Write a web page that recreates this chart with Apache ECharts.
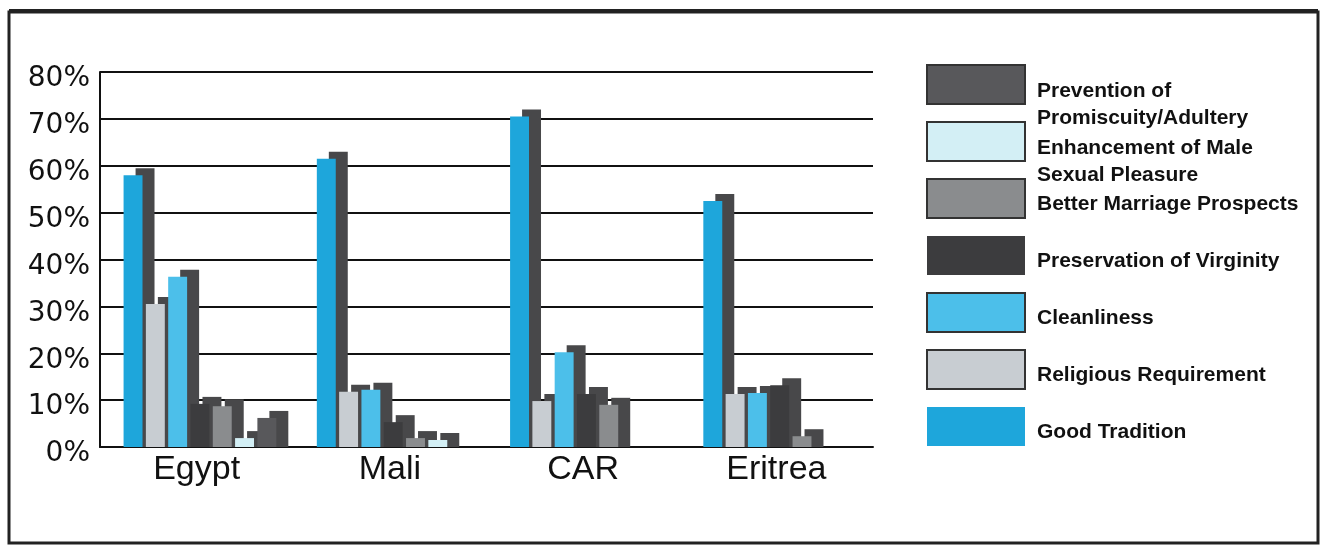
<!DOCTYPE html>
<html>
<head>
<meta charset="utf-8">
<script src="https://cdn.jsdelivr.net/npm/echarts@6/dist/echarts.min.js"></script>
<style>
  html, body { margin: 0; background: #fff; }
  #chart { width: 1323px; height: 546px; }
</style>
</head>
<body>
<div id="chart"></div>
<script>
const countries = ['Egypt', 'Mali', 'CAR', 'Eritrea'];

const reasons = [
  'Good Tradition',
  'Religious Requirement',
  'Cleanliness',
  'Preservation of Virginity',
  'Better Marriage Prospects',
  'Enhancement of Male Sexual Pleasure',
  'Prevention of Promiscuity/Adultery'
];

// percent of respondents
const goodTradition = [58, 61.5, 70.5, 52.5];
const religiousRequirement = [30.5, 11.8, 9.8, 11.3];
const cleanliness = [36.3, 12.2, 20.2, 11.5];
const preservationOfVirginity = [9.2, 5.3, 11.3, 13.2];
const betterMarriage = [8.7, 1.9, 9, 2.3];
const maleSexualPleasure = [1.9, 1.5, 0, 0];
const preventionOfPromiscuity = [6.2, 0, 0, 0];

const values = [
  goodTradition, religiousRequirement, cleanliness, preservationOfVirginity,
  betterMarriage, maleSexualPleasure, preventionOfPromiscuity
];

const legendLabels = [
  'Good Tradition',
  'Religious Requirement',
  'Cleanliness',
  'Preservation of Virginity',
  'Better Marriage Prospects',
  'Enhancement of Male\nSexual Pleasure',
  'Prevention of\nPromiscuity/Adultery'
];

const colors = ['#1ea6db', '#c8cdd2', '#4cbfea', '#3c3c3e', '#8a8c8e', '#d3eff5', '#58585b'];
const shadowColor = '#48484a';
const DX = 12, DY = 7;

function renderBar(idx) {
  return function (params, api) {
    const v = api.value(1);
    if (!v) return null;
    const top = api.coord([api.value(0), v]);
    const base = api.coord([api.value(0), 0]);
    const band = api.size([1, 0])[0];
    const w = band * 0.098;
    const x = top[0] - band * 0.378 + idx * band * 0.1154;
    return {
      type: 'group',
      children: [
        { type: 'rect', shape: { x: x + DX, y: top[1] - DY, width: w, height: base[1] - top[1] + DY }, style: { fill: shadowColor } },
        { type: 'rect', shape: { x: x, y: top[1], width: w, height: base[1] - top[1] }, style: { fill: colors[idx] } }
      ]
    };
  };
}

// legend drawn by hand: top to bottom, last series first
const legendOrder = [6, 5, 4, 3, 2, 1, 0];
const noBorder = [0, 3];
const legendItems = [];
legendOrder.forEach((i, k) => {
  const y = 65 + k * 57;
  legendItems.push({
    type: 'rect',
    shape: { x: 927, y: y, width: 98, height: 39 },
    style: noBorder.includes(i)
      ? { fill: colors[i] }
      : { fill: colors[i], stroke: '#333', lineWidth: 2 }
  });
  legendItems.push({
    type: 'text',
    x: 1037,
    y: y + 19.5 + (legendLabels[i].includes('\n') ? -7 : -8),
    style: {
      text: legendLabels[i],
      font: 'bold 21px "Liberation Sans"',
      fill: '#111',
      lineHeight: 27,
      verticalAlign: 'top'
    }
  });
});

const chart = echarts.init(document.getElementById('chart'));

chart.setOption({
  animation: false,
  backgroundColor: '#fff',
  grid: { left: 100, right: 450, top: 72, bottom: 99 },
  xAxis: {
    type: 'category',
    data: countries,
    axisLine: { lineStyle: { color: '#111', width: 2 } },
    axisTick: { inside: true, length: 8, lineStyle: { color: '#111', width: 2 } },
    axisLabel: { fontFamily: 'Liberation Sans', fontSize: 34, color: '#111', margin: 6 }
  },
  yAxis: {
    type: 'value',
    min: 0,
    max: 80,
    interval: 10,
    axisLine: { show: true, lineStyle: { color: '#111', width: 2 } },
    axisTick: { show: false },
    splitLine: { lineStyle: { color: '#111', width: 2 } },
    axisLabel: {
      formatter: '{value}%', fontFamily: 'DejaVu Sans', fontSize: 28, color: '#111',
      margin: 10, verticalAlign: 'top', lineHeight: 14
    }
  },
  graphic: [
    { type: 'rect', shape: { x: 9, y: 12, width: 1309, height: 531 }, style: { fill: 'none', stroke: '#222', lineWidth: 3 }, silent: true },
    { type: 'line', shape: { x1: 9, y1: 11, x2: 1318, y2: 11 }, style: { stroke: '#222', lineWidth: 4 }, silent: true },
    { type: 'group', silent: true, children: legendItems }
  ],
  series: reasons.map((name, i) => ({
    name: name,
    type: 'custom',
    itemStyle: { color: colors[i] },
    encode: { x: 0, y: 1 },
    data: countries.map((c, k) => [k, values[i][k]]),
    renderItem: renderBar(i)
  }))
});
</script>
</body>
</html>
